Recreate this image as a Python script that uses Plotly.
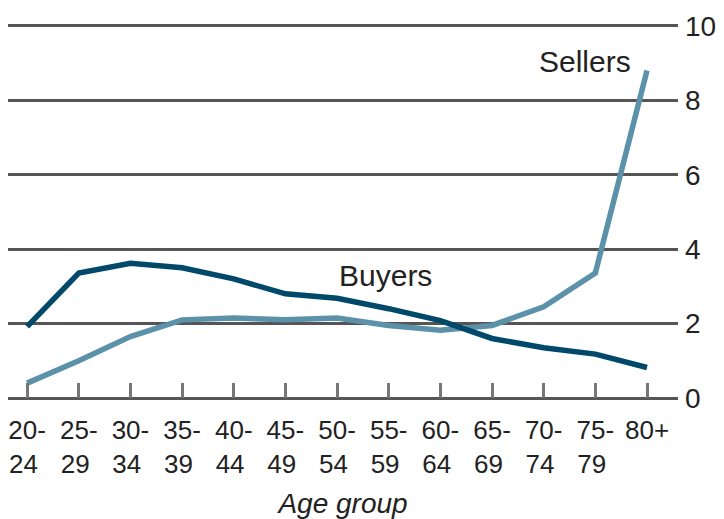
import plotly.graph_objects as go

categories = ["20-24", "25-29", "30-34", "35-39", "40-44", "45-49", "50-54",
              "55-59", "60-64", "65-69", "70-74", "75-79", "80+"]
tick_labels = ["20-<br>24\u00a0", "25-<br>29\u00a0", "30-<br>34\u00a0", "35-<br>39\u00a0",
               "40-<br>44\u00a0", "45-<br>49\u00a0", "50-<br>54\u00a0", "55-<br>59\u00a0",
               "60-<br>64\u00a0", "65-<br>69\u00a0", "70-<br>74\u00a0", "75-<br>79\u00a0", "80+"]
buyers = [1.92, 3.36, 3.62, 3.5, 3.2, 2.8, 2.68, 2.4, 2.08, 1.6, 1.35, 1.18, 0.82]
sellers = [0.4, 1.0, 1.65, 2.1, 2.15, 2.1, 2.15, 1.95, 1.82, 1.95, 2.45, 3.36, 8.8]
y_ticks = [0, 2, 4, 6, 8, 10]

FONT = "Liberation Sans, Arial, sans-serif"
xs = list(range(len(categories)))

fig = go.Figure()
fig.add_trace(go.Scatter(x=xs, y=sellers, mode="lines", name="Sellers",
                         line=dict(color="#5b91a9", width=5.5)))
fig.add_trace(go.Scatter(x=xs, y=buyers, mode="lines", name="Buyers",
                         line=dict(color="#00496a", width=5.5)))

fig.add_annotation(x=10.8, y=9.05, text="Sellers", showarrow=False,
                   font=dict(family=FONT, size=30, color="#222"))
fig.add_annotation(x=6.93, y=3.3, text="Buyers", showarrow=False,
                   font=dict(family=FONT, size=30, color="#222"))

fig.update_layout(
    width=724, height=519,
    margin=dict(l=8, r=46, t=11, b=121),
    paper_bgcolor="white", plot_bgcolor="white",
    showlegend=False,
    xaxis=dict(range=[-0.37, 12.6], tickmode="array", tickvals=xs, ticktext=tick_labels,
               ticks="inside", ticklen=15, tickwidth=2.5, tickcolor="#777",
               showgrid=False, zeroline=False, showline=False, automargin=False,
               ticklabelstandoff=14,
               tickfont=dict(family=FONT, size=26, color="#222"),
               title=dict(text="<i>Age group</i>", font=dict(family=FONT, size=28, color="#222"),
                          standoff=20)),
    yaxis=dict(range=[0, 10.4], side="right", tickmode="array", tickvals=y_ticks,
               showgrid=True, gridcolor="#555", gridwidth=2.5,
               zeroline=True, zerolinecolor="#555", zerolinewidth=3,
               showline=False, ticks="", ticklabelstandoff=6, automargin=False,
               tickfont=dict(family=FONT, size=28, color="#222")),
)

fig.write_html("out.html", config={"displayModeBar": False},
               post_script="document.body.style.margin='0';")
